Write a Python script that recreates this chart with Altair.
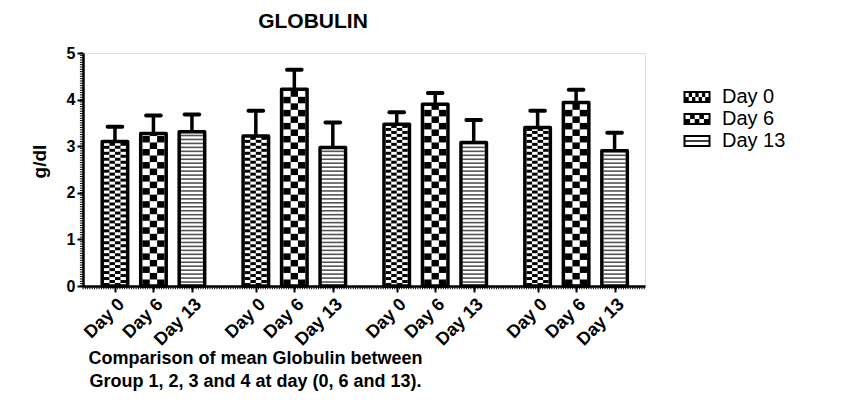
import altair as alt
import pandas as pd

# ---- data ----
groups = ["Group 1", "Group 2", "Group 3", "Group 4"]
days = ["Day 0", "Day 6", "Day 13"]
means = [
    [3.10, 3.27, 3.31],
    [3.22, 4.22, 2.97],
    [3.47, 3.90, 3.08],
    [3.40, 3.94, 2.90],
]
sems = [
    [0.32, 0.39, 0.37],
    [0.54, 0.42, 0.54],
    [0.26, 0.24, 0.48],
    [0.36, 0.27, 0.39],
]
y_ticks = [0, 1, 2, 3, 4, 5]

# ---- layout constants (bar slot units) ----
GS = 3.66      # group step
HW = 0.331     # bar half width (stroke centre)
IW = 0.286     # interior half width
CAP = 0.19     # error cap half width
XMIN, XMAX = -0.83, 3 * GS + 2 + 0.79

rows = []
for gi, g in enumerate(groups):
    for di, d in enumerate(days):
        rows.append(dict(group=g, day=d, gi=gi, di=di, mean=means[gi][di],
                         sem=sems[gi][di], pos=gi * GS + di))
df = pd.DataFrame(rows)
tick_pos = list(df["pos"])

FONT = "Liberation Sans"
xscale = alt.Scale(domain=[XMIN, XMAX], nice=False, zero=False)
yscale = alt.Scale(domain=[0, 5], nice=False)

xaxis = alt.Axis(
    values=tick_pos,
    labelExpr=f"['Day 0','Day 6','Day 13'][round(datum.value - {GS}*floor((datum.value+0.5)/{GS}))]",
    labelAngle=-45, labelFont=FONT, labelFontSize=18, labelFontWeight="bold",
    labelColor="black", labelPadding=3, labelOverlap=False, labelBound=False,
    labelAlign="right", labelBaseline="top",
    tickSize=6, tickWidth=2, tickColor="black",
    domainColor="black", domainWidth=2.5, grid=False,
    title=["Comparison of mean Globulin between", "Group 1, 2, 3 and 4 at day (0, 6 and 13)."],
    titleFont=FONT, titleFontSize=18, titleFontWeight="bold", titleColor="black",
    titleAnchor="start", titleAlign="center", titleX=172, titleY=63, titleBaseline="top",
    titleLineHeight=23,
)
yaxis = alt.Axis(
    values=y_ticks, format="d", labelFont=FONT, labelFontSize=16, labelFontWeight="bold",
    labelColor="black", labelPadding=2, tickSize=6, tickWidth=2, tickColor="black",
    domainColor="black", domainWidth=2.5, grid=False,
    title="g/dl", titleFont=FONT, titleFontSize=19, titleFontWeight="bold", titleColor="black",
    titleX=-34, titleY=108, titleAngle=-90, titleAlign="center", titleBaseline="bottom",
)

# legend symbol paths (units of 6 px)
def rect_hole(x0, y0, x1, y1):
    return f"M{x0:.3f},{y0:.3f}L{x0:.3f},{y1:.3f}L{x1:.3f},{y1:.3f}L{x1:.3f},{y0:.3f}Z"

outer = "M-2.25,-1L2.25,-1L2.25,1L-2.25,1Z"
ix0, ix1, iy0, iy1 = -1.92, 1.92, -0.68, 0.68

def checker_path(nc, nr):
    cw = (ix1 - ix0) / nc
    rh = (iy1 - iy0) / nr
    p = outer
    for r in range(nr):
        for c in range(nc):
            if (r + c) % 2 == 0:
                p += rect_hole(ix0 + c * cw, iy0 + r * rh, ix0 + (c + 1) * cw, iy0 + (r + 1) * rh)
    return p

path_d0 = checker_path(7, 2)
path_d6 = checker_path(5, 2)
path_d13 = outer + rect_hole(ix0, iy0, ix1, -0.12) + rect_hole(ix0, 0.12, ix1, iy1)

base = alt.Chart(df)
X = lambda f: alt.X(f, type="quantitative", scale=xscale, axis=xaxis)
Y = lambda f: alt.Y(f, type="quantitative", scale=yscale, axis=yaxis)

legend_layer = base.transform_calculate(mid="datum.mean/2").mark_point(
    filled=True, size=30, color="black", opacity=1
).encode(
    x=X("pos"), y=Y("mid"),
    shape=alt.Shape("day:N", scale=alt.Scale(domain=days, range=[path_d0, path_d6, path_d13]),
                    legend=alt.Legend(title=None, orient="none", legendX=604, legendY=34,
                                      symbolSize=144, labelFont=FONT, labelFontSize=20,
                                      labelColor="black", labelOffset=15, rowPadding=2,
                                      padding=0, symbolStrokeWidth=0)),
)

bar_calc = base.transform_calculate(lo=f"datum.pos-{HW}", hi=f"datum.pos+{HW}", zero="0")

bg = bar_calc.mark_rect(fill="white").encode(x=X("lo"), x2="hi", y=Y("zero"), y2="mean")

cells = base.transform_filter("datum.day != 'Day 13'").transform_calculate(
    rh="datum.day == 'Day 0' ? 0.064 : 0.14",
    nc="datum.day == 'Day 0' ? 4 : 3",
).transform_calculate(
    r="sequence(0, ceil(datum.mean / datum.rh))",
    c="sequence(0, datum.nc)",
).transform_flatten(["r"]).transform_flatten(["c"]).transform_filter(
    "(datum.r + datum.c) % 2 == 0"
).transform_calculate(
    cx1=f"datum.pos - {IW} + datum.c * {2*IW} / datum.nc",
    cx2=f"datum.pos - {IW} + (datum.c + 1) * {2*IW} / datum.nc",
    cy1="datum.r * datum.rh",
    cy2="min((datum.r + 1) * datum.rh, datum.mean)",
).mark_rect(color="black").encode(x=X("cx1"), x2="cx2", y=Y("cy1"), y2="cy2")

stripes = base.transform_filter("datum.day == 'Day 13'").transform_calculate(
    k="sequence(1, ceil(datum.mean / 0.085))"
).transform_flatten(["k"]).transform_calculate(
    sy="datum.k * 0.085", sx1=f"datum.pos - {IW}", sx2=f"datum.pos + {IW}"
).mark_rule(color="#555555", strokeWidth=1.6).encode(x=X("sx1"), x2="sx2", y=Y("sy"))

border = bar_calc.mark_rect(fillOpacity=0, stroke="black", strokeWidth=3.5, strokeJoin="round").encode(
    x=X("lo"), x2="hi", y=Y("zero"), y2="mean"
)

err = base.transform_calculate(top="datum.mean + datum.sem").mark_rule(
    color="black", strokeWidth=3.5
).encode(x=X("pos"), y=Y("mean"), y2="top")

cap = base.transform_calculate(
    top="datum.mean + datum.sem", cl=f"datum.pos-{CAP}", cr=f"datum.pos+{CAP}"
).mark_rule(color="black", strokeWidth=4, strokeCap="round").encode(x=X("cl"), x2="cr", y=Y("top"))

# dense minor ticks along both axes (as in the reference's axis lines)
y_minor = alt.Chart(alt.sequence(0, 5.001, 0.05, as_="v")).transform_calculate(
    a=f"{XMIN}", b=f"{XMIN} - 0.08"
).mark_rule(color="black", strokeWidth=1).encode(x=X("a"), x2="b", y=Y("v"))

x_minor = alt.Chart(alt.sequence(XMIN, XMAX, 0.06, as_="u")).transform_calculate(
    a="0", b="-0.07"
).mark_rule(color="black", strokeWidth=1).encode(x=X("u"), y=Y("a"), y2="b")

chart = alt.layer(legend_layer, bg, cells, stripes, border, err, cap, y_minor, x_minor).properties(
    width=562, height=233,
    title=alt.TitleParams("GLOBULIN", font=FONT, fontSize=21, fontWeight="bold", color="black",
                          anchor="middle", offset=13, dx=-51),
    autosize=alt.AutoSizeParams(type="none"),
    padding={"left": 75, "top": 45, "right": 194, "bottom": 110},
).configure_view(stroke=None).configure(background="white")

chart.save("out.html", embed_options={"renderer": "svg", "actions": False})
